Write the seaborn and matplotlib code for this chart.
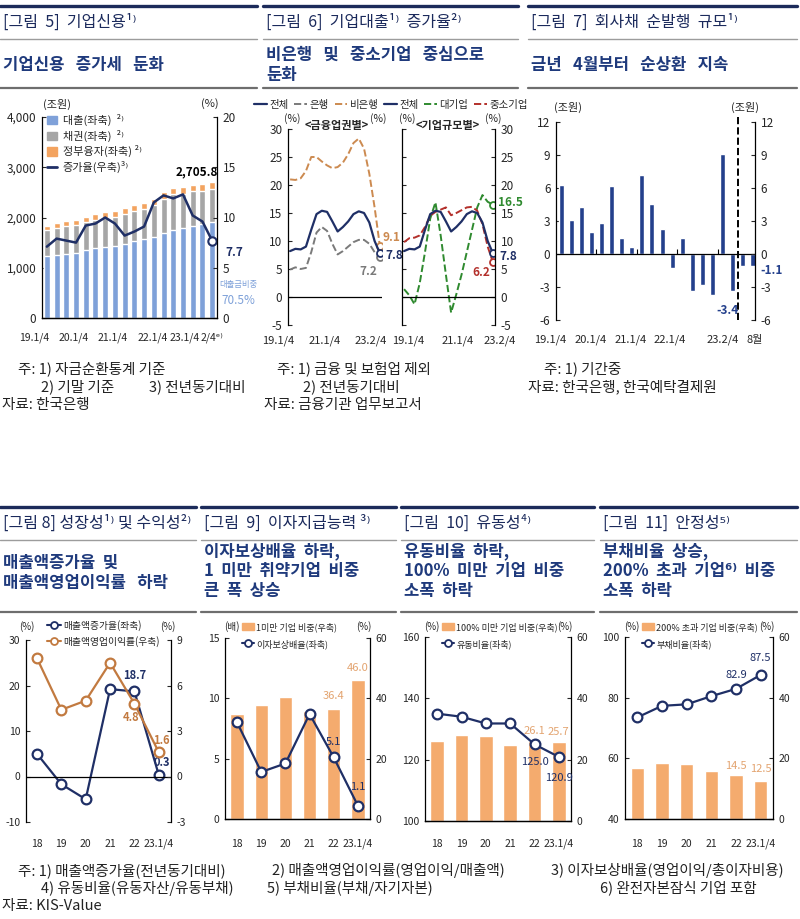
import numpy as np
import matplotlib
matplotlib.use('Agg')
import matplotlib.pyplot as plt
import matplotlib.transforms as mtrans
from matplotlib.lines import Line2D
from matplotlib.patches import Patch
from matplotlib.ticker import StrMethodFormatter
import seaborn as sns

# ---------------- 데이터 ----------------
# 그림 5 기업신용 (조원, %)
q5_ticks = ['19.1/4', '20.1/4', '21.1/4', '22.1/4', '23.1/4', '2/4ᵉ⁾']
credit_loan = [1230, 1255, 1275, 1290, 1350, 1385, 1410, 1440, 1480, 1530, 1570, 1620,
               1690, 1760, 1800, 1840, 1870, 1907.6]
credit_bond = [515, 535, 550, 560, 560, 570, 590, 565, 585, 595, 600, 630,
               685, 700, 670, 680, 665, 658.2]
credit_gov = [95, 100, 100, 100, 105, 110, 110, 115, 115, 120, 120, 120,
              125, 125, 130, 130, 135, 140]
credit_growth = [7.1, 7.9, 7.7, 7.5, 9.2, 9.4, 10.0, 9.4, 8.2, 8.6, 9.1, 11.5,
                 12.2, 11.9, 12.3, 10.2, 9.6, 7.7]

# 그림 6 기업대출 증가율 (%)
q6_ticks = ['19.1/4', '21.1/4', '23.2/4']
loan_all = [8.2, 8.6, 8.5, 9.0, 12.0, 14.8, 15.4, 15.2, 13.5, 11.7, 12.5, 13.5,
            14.8, 15.3, 15.0, 13.3, 10.0, 7.8]
loan_bank = [4.9, 5.3, 5.0, 5.2, 8.0, 11.5, 12.5, 11.8, 9.5, 7.6, 8.2, 9.0,
             9.8, 10.2, 10.2, 9.5, 8.0, 7.2]
loan_nonbank = [21.0, 20.9, 21.2, 22.5, 25.0, 25.0, 24.2, 23.5, 23.0, 23.2, 24.0, 25.5,
                27.5, 28.3, 26.5, 22.0, 16.0, 9.1]
loan_large = [1.4, 0.3, -1.3, 2.5, 8.0, 14.0, 16.9, 11.0, 4.0, -2.8, 0.5, 4.0,
              8.0, 12.0, 16.0, 18.2, 17.0, 16.5]
loan_sme = [9.8, 10.5, 10.6, 11.0, 12.5, 14.5, 15.2, 15.6, 16.0, 14.6, 15.0, 15.5,
            16.0, 16.1, 15.4, 13.0, 9.0, 6.2]

# 그림 7 회사채 순발행 (조원)
q7_ticks = ['19.1/4', '20.1/4', '21.1/4', '22.1/4', '23.2/4', '8월']
bond_net = [6.3, 3.1, 4.3, 2.0, 2.8, 6.2, 1.5, 0.6, 7.2, 4.5, 2.3, -1.3,
            1.5, -3.4, -2.8, -3.7, 9.1, -3.4, -1.1, -1.1]

# 그림 8~11 (연도별)
years = ['18', '19', '20', '21', '22', '23.1/4']
sales_growth = [5.0, -1.7, -5.0, 19.2, 18.7, 0.3]
op_margin = [7.8, 4.4, 5.0, 7.5, 4.8, 1.6]
icr = [8.0, 3.9, 4.6, 8.7, 5.1, 1.1]
icr_under1 = [34.7, 37.9, 40.4, 35.8, 36.4, 46.0]
current_ratio = [135.0, 134.0, 131.8, 131.8, 125.0, 120.9]
cr_under100 = [26.2, 28.1, 27.6, 24.9, 26.1, 25.7]
debt_ratio = [73.5, 77.3, 77.8, 80.5, 82.9, 87.5]
debt_over200 = [16.9, 18.6, 18.0, 15.8, 14.5, 12.5]

# ---------------- 스타일 ----------------
NAVY = '#1f2f66'
BLUE_BAR = '#7fa1d9'
GRAY_BAR = '#a6a6a6'
ORANGE_BAR = '#f3a35f'
BAR_OR = '#f4ab6e'
BROWN = '#c27a40'
GREEN = '#2f8a2f'
DRED = '#b3302b'
GRAY_LINE = '#7a7a7a'
NONBANK = '#cc8a50'
BAR7 = '#24408c'
LBL_OR = '#e3a470'
TITLE_C = '#1b2a5c'
SUB_C = '#1f3a7c'

sns.set_style('white')
plt.rcParams['font.family'] = ['Noto Sans CJK KR', 'DejaVu Sans']
plt.rcParams['axes.unicode_minus'] = False

W, H = 800, 919
fig = plt.figure(figsize=(W / 100, H / 100), dpi=100)


def rect(x0, y0, x1, y1):
    return [x0 / W, 1 - y1 / H, (x1 - x0) / W, (y1 - y0) / H]


def fpt(x, y):
    return (x / W, 1 - y / H)


def ftext(x, y, s, **kw):
    kw.setdefault('va', 'center')
    kw.setdefault('ha', 'left')
    fig.text(x / W, 1 - y / H, s, **kw)


def hline(x0, x1, y, color, lw):
    fig.add_artist(Line2D([x0 / W, x1 / W], [1 - y / H] * 2,
                          transform=fig.transFigure, color=color, lw=lw))


def xlab(ax, pos, labels, y, fs=8):
    tr = mtrans.blended_transform_factory(ax.transData, fig.transFigure)
    for p, s in zip(pos, labels):
        ax.text(p, 1 - y / H, s, transform=tr, ha='center', va='center',
                fontsize=fs, clip_on=False)


def spines(ax, left=False, right=False, bottom=False, top=False):
    for k, v in dict(left=left, right=right, bottom=bottom, top=top).items():
        ax.spines[k].set_visible(v)
        ax.spines[k].set_color('black')
        ax.spines[k].set_linewidth(0.9)
    ax.tick_params(axis='x', bottom=False, labelbottom=False)


def yleft(ax, lim, ticks, fs=8.5, fmt=None, labels=True):
    ax.set_ylim(*lim)
    ax.set_yticks(ticks)
    if fmt:
        ax.yaxis.set_major_formatter(StrMethodFormatter(fmt))
    ax.tick_params(axis='y', left=True, right=False, labelleft=labels,
                   labelright=False, direction='in', length=3, width=0.8,
                   labelsize=fs, pad=4)
    ax.set_ylabel('')


def yright(ax, lim, ticks, fs=8.5):
    ax.set_ylim(*lim)
    ax.set_yticks(ticks)
    ax.tick_params(axis='y', right=True, left=False, labelright=True,
                   labelleft=False, direction='in', length=3, width=0.8,
                   labelsize=fs, pad=4)
    ax.set_ylabel('')


def note(ax, x, y, s, dx, dy, color, ha='center', fs=8.5, weight='bold'):
    ax.annotate(s, xy=(x, y), xytext=(dx, dy), textcoords='offset pixels',
                ha=ha, va='center', color=color, fontsize=fs, fontweight=weight,
                annotation_clip=False)


def header(x0, x1, ytop, title, subs, sub_y, ymid, ybot, sub_fs=12):
    hline(x0, x1, ytop, '#1c2b5a', 2.4)
    ftext(x0 + 3, ytop + 16, title, fontsize=11.5, color=TITLE_C)
    hline(x0, x1, ymid, '#9c9c9c', 1.0)
    for i, s in enumerate(subs):
        ftext(x0 + 3, sub_y + 20 * i, s, fontsize=sub_fs, color=SUB_C, fontweight='bold')
    hline(x0, x1, ybot, '#6e6e6e', 1.6)


# ---------------- 머리글 ----------------
header(0, 257, 6, '[그림  5]  기업신용¹⁾', ['기업신용   증가세   둔화'], 65, 39, 88)
header(263, 518, 6, '[그림  6]  기업대출¹⁾  증가율²⁾',
       ['비은행   및   중소기업   중심으로', '둔화'], 55, 39, 88)
header(528, 797, 6, '[그림  7]  회사채  순발행  규모¹⁾', ['금년   4월부터   순상환   지속'], 65, 39, 88)
header(0, 196, 507, '[그림 8] 성장성¹⁾ 및 수익성²⁾',
       ['매출액증가율  및', '매출액영업이익률   하락'], 563, 540, 612)
header(201, 396, 507, '[그림  9]  이자지급능력 ³⁾',
       ['이자보상배율  하락,', '1  미만  취약기업  비중', '큰  폭  상승'], 551, 540, 612)
header(401, 594, 507, '[그림  10]  유동성⁴⁾',
       ['유동비율  하락,', '100%  미만  기업  비중', '소폭  하락'], 551, 540, 612)
header(600, 797, 507, '[그림  11]  안정성⁵⁾',
       ['부채비율  상승,', '200%  초과  기업⁶⁾  비중', '소폭  하락'], 551, 540, 612)

# ---------------- 그림 5 ----------------
ax5 = fig.add_axes(rect(42, 117, 217, 318))
x5 = np.arange(len(credit_loan))
lay_top = np.array(credit_loan) + np.array(credit_bond) + np.array(credit_gov)
lay_mid = np.array(credit_loan) + np.array(credit_bond)
for h, c in [(lay_top, ORANGE_BAR), (lay_mid, GRAY_BAR), (np.array(credit_loan), BLUE_BAR)]:
    sns.barplot(x=x5, y=h, color=c, width=0.62, saturation=1, errorbar=None, ax=ax5)
ax5r = ax5.twinx()
sns.lineplot(x=x5, y=credit_growth, color=NAVY, lw=1.8, ax=ax5r, marker='o',
             markevery=[len(x5) - 1], ms=6, mfc='white', mec=NAVY, mew=1.5)
spines(ax5, left=True, bottom=True)
spines(ax5r, right=True, bottom=True)
yleft(ax5, (0, 4000), [0, 1000, 2000, 3000, 4000], fmt='{x:,.0f}')
yright(ax5r, (0, 20), [0, 5, 10, 15, 20])
ax5.set_xlim(-0.5, len(x5) - 0.5)
xlab(ax5, [-1.3, 2.8, 6.8, 10.9, 14.2, 17.0], q5_ticks, 338, fs=7.5)
ftext(57, 104, '(조원)', fontsize=8, ha='center')
ftext(210, 104, '(%)', fontsize=8, ha='center')
note(ax5, x5[-1], lay_top[-1], f'{lay_top[-1]:,.1f}', -15, 10, 'black')
note(ax5r, x5[-1], credit_growth[-1], f'{credit_growth[-1]}', 13, -12, NAVY, ha='left')
ftext(238, 284, '대출금비중', fontsize=6, ha='center', color=BLUE_BAR)
ftext(238, 300, '70.5%', fontsize=8.5, ha='center', color=BLUE_BAR)
h5 = [Patch(color=BLUE_BAR), Patch(color=GRAY_BAR), Patch(color=ORANGE_BAR),
      Line2D([], [], color=NAVY, lw=2)]
l5 = ['대출(좌축)  ²⁾', '채권(좌축)  ²⁾', '정부융자(좌축) ²⁾', '증가율(우축)³⁾']
ax5r.legend(h5, l5, loc='upper left', bbox_to_anchor=fpt(47, 114),
            bbox_transform=fig.transFigure, frameon=False, fontsize=8,
            handlelength=0.9, handleheight=0.8, handletextpad=0.5,
            labelspacing=0.32, borderpad=0, borderaxespad=0)

# ---------------- 그림 6 ----------------
ax6a = fig.add_axes(rect(288, 129, 382, 325))
ax6b = fig.add_axes(rect(402, 129, 495, 325))
x6 = np.arange(len(loan_all))
last6 = [len(x6) - 1]
mk = dict(marker='o', markevery=last6, ms=5, mfc='white', mew=1.3)
sns.lineplot(x=x6, y=loan_nonbank, color=NONBANK, lw=1.4, ls='--', mec=NONBANK, ax=ax6a, **mk)
sns.lineplot(x=x6, y=loan_bank, color=GRAY_LINE, lw=1.4, ls='--', mec=GRAY_LINE, ax=ax6a, **mk)
sns.lineplot(x=x6, y=loan_all, color=NAVY, lw=1.6, mec=NAVY, ax=ax6a, **mk)
sns.lineplot(x=x6, y=loan_large, color=GREEN, lw=1.4, ls='--', mec=GREEN, ax=ax6b, **mk)
sns.lineplot(x=x6, y=loan_sme, color=DRED, lw=1.4, ls='--', mec=DRED, ax=ax6b, **mk)
sns.lineplot(x=x6, y=loan_all, color=NAVY, lw=1.6, mec=NAVY, ax=ax6b, **mk)
for a in (ax6a, ax6b):
    a.set_xlim(-0.4, 17.4)
    a.axhline(0, color='black', lw=0.9)
    a.set_xlabel('')
spines(ax6a, left=True)
spines(ax6b, left=True, right=True)
yleft(ax6a, (-5, 30), list(range(-5, 31, 5)))
ax6b.set_ylim(-5, 30)
ax6b.set_yticks(list(range(-5, 31, 5)))
ax6b.tick_params(axis='y', left=True, right=True, labelleft=False, labelright=True,
                 direction='in', length=3, width=0.8, labelsize=8.5, pad=4)
ax6b.set_ylabel('')
xlab(ax6a, [-2.3, 6.6, 15.2], q6_ticks, 341)
xlab(ax6b, [0.8, 10.2, 18.3], q6_ticks, 341)
ftext(337, 126, '<금융업권별>', fontsize=8, ha='center', fontweight='bold')
ftext(448, 126, '<기업규모별>', fontsize=8, ha='center', fontweight='bold')
for xx in (292, 378, 407, 493):
    ftext(xx, 119, '(%)', fontsize=7.5, ha='center')
note(ax6a, x6[-1], loan_nonbank[-1], f'{loan_nonbank[-1]}', 3, 9, NONBANK, ha='left')
note(ax6a, x6[-1], loan_all[-1], f'{loan_all[-1]}', 5, -2, NAVY, ha='left')
note(ax6a, x6[-1], loan_bank[-1], f'{loan_bank[-1]}', -3, -15, GRAY_LINE, ha='right')
note(ax6b, x6[-1], loan_large[-1], f'{loan_large[-1]}', 5, 2, GREEN, ha='left')
note(ax6b, x6[-1], loan_all[-1], f'{loan_all[-1]}', 6, -3, NAVY, ha='left')
note(ax6b, x6[-1], loan_sme[-1], f'{loan_sme[-1]}', -3, -10, DRED, ha='right')
h6 = [Line2D([], [], color=NAVY, lw=1.6),
      Line2D([], [], color=GRAY_LINE, lw=1.4, ls='--'),
      Line2D([], [], color=NONBANK, lw=1.4, ls='--'),
      Line2D([], [], color=NAVY, lw=1.6),
      Line2D([], [], color=GREEN, lw=1.4, ls='--'),
      Line2D([], [], color=DRED, lw=1.4, ls='--')]
l6 = ['전체', '은행', '비은행', '전체', '대기업', '중소기업']
fig.legend(h6, l6, loc='center', bbox_to_anchor=fpt(391, 105), ncol=6, frameon=False,
           fontsize=7.5, handlelength=1.2, handletextpad=0.25, columnspacing=0.55,
           borderpad=0, borderaxespad=0)

# ---------------- 그림 7 ----------------
ax7 = fig.add_axes(rect(556, 122, 755, 320))
x7 = np.arange(len(bond_net))
sns.barplot(x=x7, y=bond_net, color=BAR7, width=0.5, saturation=1, errorbar=None, ax=ax7)
ax7.set_xlim(-0.5, 19.2)
ax7.axhline(0, color='black', lw=0.9)
ax7.vlines([3.5, 7.5, 11.5, 15.5], 0, 0.45, color='black', lw=0.8)
ax7.axvline(17.5, ymin=0, ymax=1.03, ls='--', color='black', lw=1.4, clip_on=False)
ax7r = ax7.twinx()
spines(ax7, left=True)
spines(ax7r, right=True)
yleft(ax7, (-6, 12), [-6, -3, 0, 3, 6, 9, 12])
yright(ax7r, (-6, 12), [-6, -3, 0, 3, 6, 9, 12])
xlab(ax7, [-1.1, 2.9, 6.9, 10.8, 16.0, 19.2], q7_ticks, 340)
ftext(568, 107, '(조원)', fontsize=8, ha='center')
ftext(745, 107, '(조원)', fontsize=8, ha='center')
note(ax7, x7[17], bond_net[17], f'{bond_net[17]}', -5, -19, BAR7)
note(ax7, x7[-1], bond_net[-1], f'{bond_net[-1]}', 7, -4, BAR7, ha='left')

# ---------------- 그림 8 ----------------
xb = np.arange(len(years))
ax8 = fig.add_axes(rect(26, 640, 171, 822))
ax8r = ax8.twinx()
omk = dict(marker='o', ms=7, mfc='white', mew=1.6)
sns.lineplot(x=xb, y=sales_growth, color=NAVY, lw=1.6, mec=NAVY, ax=ax8, **omk)
sns.lineplot(x=xb, y=op_margin, color=BROWN, lw=1.6, mec=BROWN, ax=ax8r, **omk)
ax8.axhline(0, color='black', lw=0.9)
spines(ax8, left=True)
spines(ax8r, right=True)
yleft(ax8, (-10, 30), [-10, 0, 10, 20, 30], fs=7.5)
yright(ax8r, (-3, 9), [-3, 0, 3, 6, 9], fs=7.5)
ax8.set_xlim(-0.45, 5.5)
xlab(ax8, xb, years, 844, fs=7.5)
ftext(27, 627, '(%)', fontsize=7, ha='center')
ftext(168, 627, '(%)', fontsize=7, ha='center')
note(ax8, 4, sales_growth[4], f'{sales_growth[4]}', 0, 16, NAVY, fs=8)
note(ax8r, 4, op_margin[4], f'{op_margin[4]}', -3, -14, BROWN, fs=8)
note(ax8r, 5, op_margin[5], f'{op_margin[5]}', 11, 12, BROWN, ha='right', fs=8)
note(ax8, 5, sales_growth[5], f'{sales_growth[5]}', 11, 13, NAVY, ha='right', fs=8)
h8 = [Line2D([], [], color=NAVY, lw=1.5, marker='o', ms=5, mfc='white', mec=NAVY, mew=1.3),
      Line2D([], [], color=BROWN, lw=1.5, marker='o', ms=5, mfc='white', mec=BROWN, mew=1.3)]
ax8r.legend(h8, ['매출액증가율(좌축)', '매출액영업이익률(우축)'], loc='upper left',
            bbox_to_anchor=fpt(47, 620), bbox_transform=fig.transFigure, frameon=False,
            fontsize=7, handlelength=1.4, handletextpad=0.3, labelspacing=0.5,
            borderpad=0, borderaxespad=0)


# ---------------- 그림 9~11 ----------------
def bar_line(px, bars, line, llim, lticks, unit_l, legend_bar, legend_line,
             bar_notes, line_notes):
    axl = fig.add_axes(rect(*px))
    axr = axl.twinx()
    sns.barplot(x=xb, y=bars, color=BAR_OR, width=0.55, saturation=1, errorbar=None, ax=axr)
    sns.lineplot(x=xb, y=line, color=NAVY, lw=1.6, mec=NAVY, ax=axl, **omk)
    axl.set_zorder(axr.get_zorder() + 1)
    axl.patch.set_visible(False)
    spines(axl, left=True, bottom=True)
    spines(axr, right=True, bottom=True)
    yleft(axl, llim, lticks, fs=7.5)
    yright(axr, (0, 60), [0, 20, 40, 60], fs=7.5)
    axl.set_xlim(-0.5, 5.5)
    xlab(axl, xb, years, 844, fs=7.5)
    x0, y0, x1 = px[0], px[1], px[2]
    ftext(x0 + 7, 627, unit_l, fontsize=7, ha='center')
    ftext(x1 - 6, 627, '(%)', fontsize=7, ha='center')
    for i, dx, dy in bar_notes:
        note(axr, i, bars[i], f'{bars[i]}', dx, dy, LBL_OR, fs=8, weight='normal')
    for i, dx, dy in line_notes:
        note(axl, i, line[i], f'{line[i]}', dx, dy, NAVY, fs=8, weight='normal')
    hb = [Patch(color=BAR_OR),
          Line2D([], [], color=NAVY, lw=1.5, marker='o', ms=5, mfc='white', mec=NAVY, mew=1.3)]
    axl.legend(hb, [legend_bar, legend_line], loc='upper left',
               bbox_to_anchor=fpt(x0 + 17, 622), bbox_transform=fig.transFigure,
               frameon=False, fontsize=6.5, handlelength=1.3, handleheight=0.9,
               handletextpad=0.3, labelspacing=0.8, borderpad=0, borderaxespad=0)


bar_line((225, 638, 370, 819), icr_under1, icr, (0, 15), [0, 5, 10, 15], '(배)',
         '1미만 기업 비중(우축)', '이자보상배율(좌축)',
         [(4, 0, 13), (5, 0, 12)], [(4, 0, 15), (5, 0, 19)])
bar_line((425, 637, 571, 821), cr_under100, current_ratio, (100, 160), [100, 120, 140, 160], '(%)',
         '100% 미만 기업 비중(우축)', '유동비율(좌축)',
         [(4, 0, 10), (5, 0, 10)], [(4, 0, -18), (5, 0, -21)])
bar_line((625, 637, 773, 819), debt_over200, debt_ratio, (40, 100), [40, 60, 80, 100], '(%)',
         '200% 초과 기업 비중(우축)', '부채비율(좌축)',
         [(4, 0, 9), (5, 0, 12)], [(4, 0, 14), (5, 0, 17)])

# ---------------- 주석 ----------------
fn = dict(fontsize=10.5, color='#222222')
ftext(18, 369, '주: 1) 자금순환통계 기준', **fn)
ftext(41, 387, '2) 기말 기준', **fn)
ftext(149, 387, '3) 전년동기대비', **fn)
ftext(2, 405, '자료: 한국은행', **fn)
ftext(277, 369, '주: 1) 금융 및 보험업 제외', **fn)
ftext(303, 387, '2) 전년동기대비', **fn)
ftext(264, 405, '자료: 금융기관 업무보고서', **fn)
ftext(544, 369, '주: 1) 기간중', **fn)
ftext(528, 387, '자료: 한국은행, 한국예탁결제원', **fn)

ftext(18, 871, '주: 1) 매출액증가율(전년동기대비)', **fn)
ftext(272, 871, '2) 매출액영업이익률(영업이익/매출액)', **fn)
ftext(551, 871, '3) 이자보상배율(영업이익/총이자비용)', **fn)
ftext(41, 888, '4) 유동비율(유동자산/유동부채)', **fn)
ftext(267, 888, '5) 부채비율(부채/자기자본)', **fn)
ftext(600, 888, '6) 완전자본잠식 기업 포함', **fn)
ftext(2, 906, '자료: KIS-Value', **fn)

fig.savefig('out.png', dpi=100)
